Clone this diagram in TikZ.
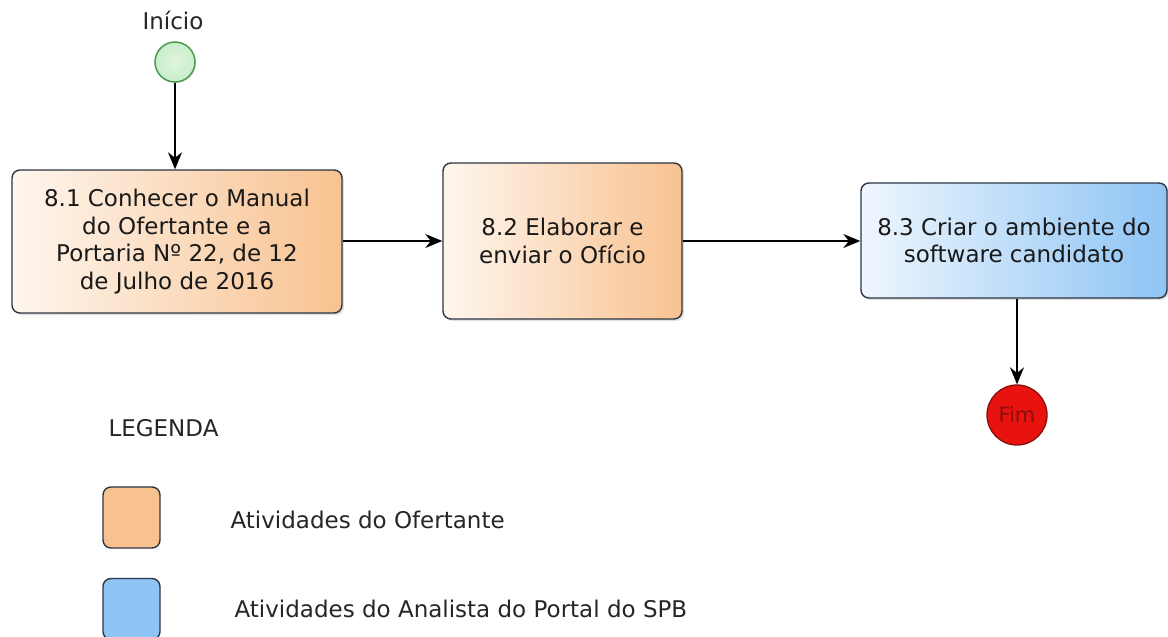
\documentclass[tikz,border=0pt]{standalone}
\usepackage{fontspec}
\setmainfont{DejaVu Sans}
\usepackage{xcolor}
\usepackage{tikz}
\usetikzlibrary{
    calc,
    arrows.meta,
    shadows
}
\definecolor{ofertante}{HTML}{F8C290}
\definecolor{analista}{HTML}{8EC4F4}
\definecolor{boxline}{HTML}{2E3644}
\definecolor{iniciofill}{HTML}{C9EECB}
\definecolor{inicioline}{HTML}{4E9A52}
\definecolor{fimfill}{HTML}{E8130F}
\definecolor{fimline}{HTML}{8A0E0B}
\tikzset{
    % text size used everywhere
    bigtext/.style={font=\fontsize{23}{27.5}\selectfont},
    % rounded activity box
    actbox/.style={
        draw=boxline, line width=1.4pt, rounded corners=8pt,
        align=center, text=black!90, bigtext,
        drop shadow={opacity=0.25, shadow xshift=2pt, shadow yshift=-2pt}
    },
    % activity of the Ofertante
    ofbox/.style={actbox, left color=ofertante!15, right color=ofertante},
    % activity of the Analista
    anbox/.style={actbox, left color=analista!15, right color=analista},
    % small legend square
    legbox/.style={
        draw=boxline, line width=1.4pt, rounded corners=8pt,
        minimum width=57pt, minimum height=61pt
    },
    % flow arrow
    flow/.style={-{Stealth[length=17pt, width=14pt]}, line width=1.6pt, black}
}

\begin{document}
\begin{tikzpicture}[x=1pt, y=-1pt]
    \useasboundingbox[fill=white] (0,0) rectangle (1168,637);
    % start and end events
    \node (inicio) at (175,62)[circle, draw=inicioline, line width=1.5pt,
        inner color=iniciofill!60, outer color=iniciofill, minimum size=40pt,
        drop shadow={fill=inicioline, opacity=0.25, shadow xshift=1pt, shadow yshift=-1pt}]{};
    \node (lbinicio) at (173,20)[bigtext, text=black!85]{Início};
    \node (fim) at (1017,415)[circle, draw=fimline, line width=1.3pt, fill=fimfill,
        minimum size=60pt, inner sep=0pt, text=fimline,
        font=\fontsize{21}{24}\selectfont]{Fim};
    % activities
    \node (a81) at (177,241.5)[ofbox, minimum width=330pt, minimum height=143pt]
        {8.1 Conhecer o Manual\\do Ofertante e a\\Portaria Nº 22, de 12\\de Julho de 2016};
    \node (a82) at (562.5,241)[ofbox, minimum width=239pt, minimum height=156pt]
        {8.2 Elaborar e\\enviar o Ofício};
    \node (a83) at (1014,240.5)[anbox, minimum width=306pt, minimum height=115pt]
        {8.3 Criar o ambiente do\\software candidato};
    % connectors
    \draw[flow] (inicio) -- (inicio |- a81.north);
    \draw[flow] (a81.east |- 0,241) -- (a82.west |- 0,241);
    \draw[flow] (a82.east |- 0,241) -- (a83.west |- 0,241);
    \draw[flow] (fim |- a83.south) -- (fim);
    % legend
    \node (legenda) at (105,428)[anchor=west, bigtext, text=black!85]{LEGENDA};
    \node (legof) at (131.5,517.5)[legbox, fill=ofertante]{};
    \node (legan) at (131.5,609)[legbox, fill=analista]{};
    \node (txof) at (227,520)[anchor=west, bigtext, text=black!85]{Atividades do Ofertante};
    \node (txan) at (231,609)[anchor=west, bigtext, text=black!85]{Atividades do Analista do Portal do SPB};
\end{tikzpicture}
\end{document}
